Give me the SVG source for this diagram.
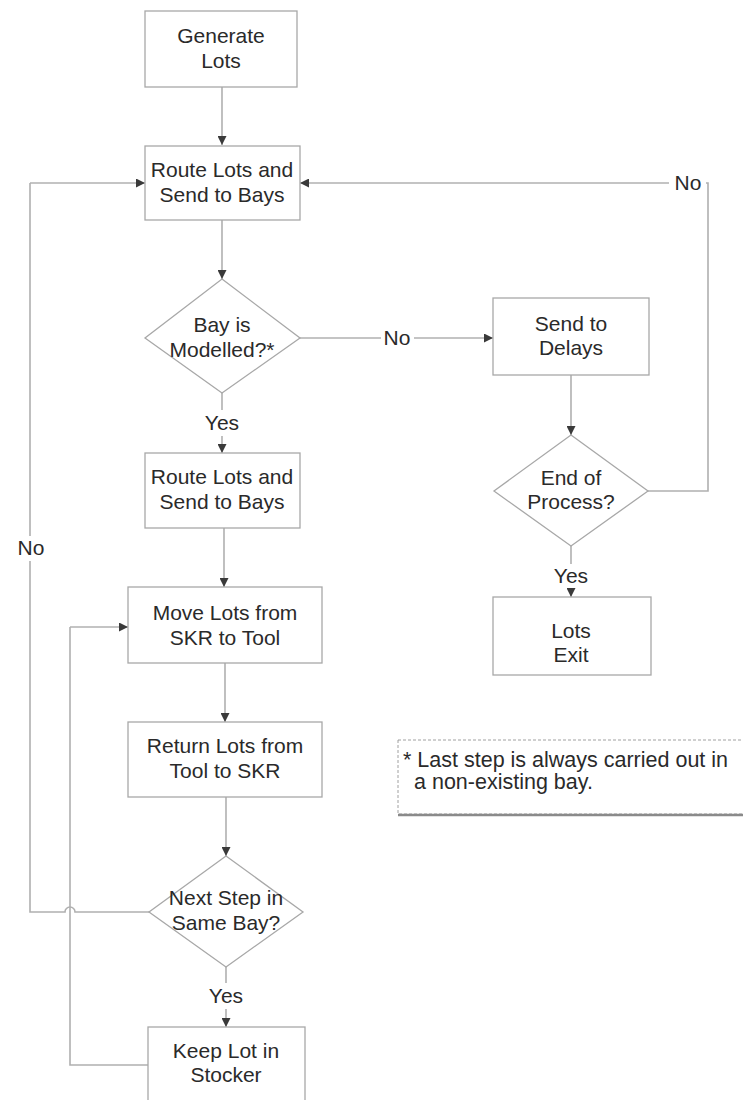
<svg xmlns="http://www.w3.org/2000/svg" width="743" height="1100" viewBox="0 0 743 1100">
  <style>
    .box { fill: #ffffff; stroke: #a8a8a8; stroke-width: 1.3; }
    .line { fill: none; stroke: #b0b0b0; stroke-width: 1.6; }
    .t { font-family: "Liberation Sans", Arial, sans-serif; font-size: 21px; fill: #2a2a2a; text-anchor: middle; }
    .lbl { font-family: "Liberation Sans", Arial, sans-serif; font-size: 21px; fill: #2a2a2a; }
  </style>
  <defs>
    <marker id="arrow" viewBox="0 0 10 10" refX="10" refY="5" markerWidth="9" markerHeight="9" markerUnits="userSpaceOnUse" orient="auto">
      <path d="M0,0 L10,5 L0,10 z" fill="#3a3a3a"/>
    </marker>
  </defs>
  <rect width="743" height="1100" fill="#ffffff"/>

  <g id="connectors">
    <!-- Generate -> Route 1 -->
    <line class="line" x1="222" y1="87" x2="222" y2="145" marker-end="url(#arrow)"/>
    <!-- Route 1 -> decision -->
    <line class="line" x1="222" y1="220" x2="222" y2="279" marker-end="url(#arrow)"/>
    <!-- decision No -> Send to Delays -->
    <line class="line" x1="300" y1="338" x2="381" y2="338"/>
    <line class="line" x1="414" y1="338" x2="493" y2="338" marker-end="url(#arrow)"/>
    <!-- decision Yes -> Route 2 -->
    <line class="line" x1="222" y1="393" x2="222" y2="410"/>
    <line class="line" x1="222" y1="436" x2="222" y2="453" marker-end="url(#arrow)"/>
    <!-- Send to Delays -> End of Process -->
    <line class="line" x1="571" y1="375" x2="571" y2="435" marker-end="url(#arrow)"/>
    <!-- End of Process Yes -> Lots Exit -->
    <line class="line" x1="571" y1="546" x2="571" y2="564"/>
    <line class="line" x1="571" y1="589" x2="571" y2="597" marker-end="url(#arrow)"/>
    <!-- End of Process No -> back to Route 1 -->
    <polyline class="line" points="648,491 708,491 708,183 706,183"/>
    <line class="line" x1="669" y1="183" x2="300" y2="183" marker-end="url(#arrow)"/>
    <!-- Route 2 -> Move Lots -->
    <line class="line" x1="224" y1="528" x2="224" y2="587" marker-end="url(#arrow)"/>
    <!-- Move Lots -> Return Lots -->
    <line class="line" x1="225" y1="663" x2="225" y2="722" marker-end="url(#arrow)"/>
    <!-- Return Lots -> Next Step -->
    <line class="line" x1="226" y1="797" x2="226" y2="856" marker-end="url(#arrow)"/>
    <!-- Next Step No -> back to Route 1 (hops over the stocker loop) -->
    <path class="line" d="M149,912 L75,912 A5,5 0 0 0 65,912 L30,912 L30,183"/>
    <line class="line" x1="30" y1="183" x2="145" y2="183" marker-end="url(#arrow)"/>
    <!-- Next Step Yes -> Keep Lot -->
    <line class="line" x1="226" y1="967" x2="226" y2="983"/>
    <line class="line" x1="226" y1="1009" x2="226" y2="1027" marker-end="url(#arrow)"/>
    <!-- Keep Lot -> Move Lots -->
    <polyline class="line" points="148,1065 70,1065 70,627"/>
    <line class="line" x1="70" y1="627" x2="128" y2="627" marker-end="url(#arrow)"/>
    <!-- connector labels -->
    <text class="lbl" x="397" y="345" text-anchor="middle">No</text>
    <text class="lbl" x="222" y="430" text-anchor="middle">Yes</text>
    <text class="lbl" x="571" y="583" text-anchor="middle">Yes</text>
    <text class="lbl" x="688" y="190" text-anchor="middle">No</text>
    <rect x="13" y="536" width="36" height="25" fill="#ffffff"/>
    <text class="lbl" x="31" y="555" text-anchor="middle">No</text>
    <text class="lbl" x="226" y="1003" text-anchor="middle">Yes</text>
  </g>

  <g id="generate-lots">
    <rect class="box" x="145" y="11" width="152" height="76"/>
    <text class="t" x="221" y="43">Generate</text>
    <text class="t" x="221" y="68">Lots</text>
  </g>

  <g id="route-lots-1">
    <rect class="box" x="145" y="146" width="155" height="74"/>
    <text class="t" x="222" y="177">Route Lots and</text>
    <text class="t" x="222" y="202">Send to Bays</text>
  </g>

  <g id="bay-modelled">
    <polygon class="box" points="222,279 300,338 222,393 145,338"/>
    <text class="t" x="222" y="332">Bay is</text>
    <text class="t" x="222" y="357">Modelled?*</text>
  </g>

  <g id="send-to-delays">
    <rect class="box" x="493" y="298" width="156" height="77"/>
    <text class="t" x="571" y="331">Send to</text>
    <text class="t" x="571" y="355">Delays</text>
  </g>

  <g id="end-of-process">
    <polygon class="box" points="571,435 648,491 571,546 494,491"/>
    <text class="t" x="571" y="485">End of</text>
    <text class="t" x="571" y="509">Process?</text>
  </g>

  <g id="lots-exit">
    <rect class="box" x="493" y="597" width="158" height="78"/>
    <text class="t" x="571" y="638">Lots</text>
    <text class="t" x="571" y="662">Exit</text>
  </g>

  <g id="route-lots-2">
    <rect class="box" x="145" y="453" width="155" height="75"/>
    <text class="t" x="222" y="484">Route Lots and</text>
    <text class="t" x="222" y="509">Send to Bays</text>
  </g>

  <g id="move-lots">
    <rect class="box" x="128" y="587" width="194" height="76"/>
    <text class="t" x="225" y="620">Move Lots from</text>
    <text class="t" x="225" y="645">SKR to Tool</text>
  </g>

  <g id="return-lots">
    <rect class="box" x="128" y="722" width="194" height="75"/>
    <text class="t" x="225" y="753">Return Lots from</text>
    <text class="t" x="225" y="778">Tool to SKR</text>
  </g>

  <g id="next-step-same-bay">
    <polygon class="box" points="226,856 303,912 226,967 149,912"/>
    <text class="t" x="226" y="905">Next Step in</text>
    <text class="t" x="226" y="930">Same Bay?</text>
  </g>

  <g id="keep-lot">
    <rect class="box" x="148" y="1027" width="157" height="80"/>
    <text class="t" x="226" y="1058">Keep Lot in</text>
    <text class="t" x="226" y="1082">Stocker</text>
  </g>

  <g id="note">
    <rect x="398" y="740" width="360" height="74" fill="#ffffff" stroke="#a0a0a0" stroke-width="1" stroke-dasharray="3,2"/>
    <line x1="398" y1="815" x2="743" y2="815" stroke="#8a8a8a" stroke-width="2.5"/>
    <text class="lbl" x="403" y="767" style="font-size:21.5px">* Last step is always carried out in</text>
    <text class="lbl" x="414" y="789" style="font-size:21.5px">a non-existing bay.</text>
  </g>
</svg>
